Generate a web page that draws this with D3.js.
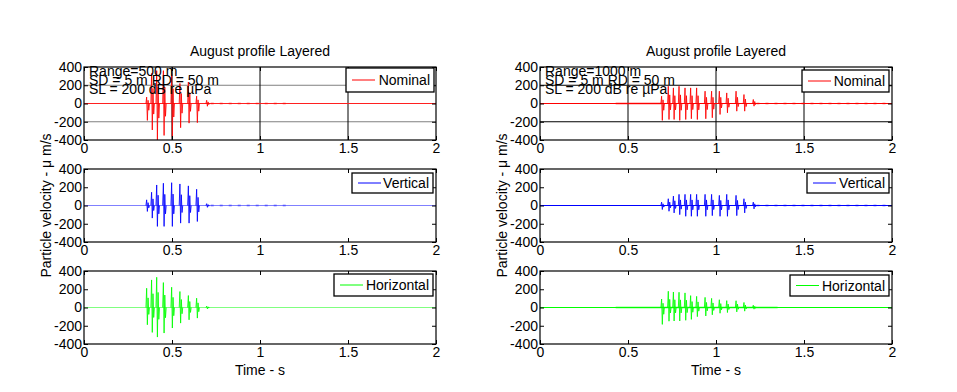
<!DOCTYPE html>
<html>
<head>
<meta charset="utf-8">
<script src="https://cdn.jsdelivr.net/npm/d3@7"></script>
<style>
  html, body { margin: 0; padding: 0; background: #fff; }
  svg { display: block; font-family: "Liberation Sans", Arial, sans-serif; }
</style>
</head>
<body>
<script>
// ---------------- data ----------------
const titleText = "August profile Layered";
const xLabelText = "Time - s";
const yLabelText = "Particle velocity -  \u03BC m/s";
const seriesNames = ["Nominal", "Vertical", "Horizontal"];
const xTicks = [0, 0.5, 1, 1.5, 2];
const yTicks = [-400, -200, 0, 200, 400];
const annotLeft = ["Range=500 m", "SD = 5 m  RD = 50 m", "SL = 200 dB re \u00B5Pa"];
const annotRight = ["Range=1000 m", "SD = 5 m  RD = 50 m", "SL = 200 dB re \u00B5Pa"];

// Range 500 m: arrival times (s) and peak values (µm/s)
const leftArrivals = [0.356, 0.384, 0.413, 0.451, 0.498, 0.545, 0.593, 0.640, 0.697];
const leftNominalUp = [70, 330, 360, 360, 325, 220, 235, 80, 35];
const leftNominalDown = [-185, -290, -400, -350, -370, -265, -215, -210, -30];
const leftVerticalUp = [62, 145, 225, 244, 250, 236, 215, 178, 20];
const leftVerticalDown = [-65, -138, -229, -229, -229, -193, -193, -175, -20];
const leftHorizontalUp = [211, 302, 331, 273, 222, 175, 131, 102, 15];
const leftHorizontalDown = [-189, -273, -324, -280, -225, -171, -135, -116, -15];

// Range 1000 m
const rightArrivals = [0.691, 0.729, 0.758, 0.790, 0.824, 0.856, 0.890, 0.938, 0.975, 1.019, 1.061, 1.114, 1.159, 1.212];
const rightNominalUp = [80, 189, 171, 189, 171, 171, 171, 135, 135, 135, 116, 135, 98, 44];
const rightNominalDown = [-185, -175, -175, -185, -175, -167, -175, -167, -156, -120, -102, -84, -84, -29];
const rightVerticalUp = [37, 74, 103, 122, 122, 122, 122, 122, 122, 111, 122, 111, 74, 37];
const rightVerticalDown = [-44, -63, -81, -100, -118, -118, -118, -118, -111, -118, -118, -111, -81, -37];
const rightHorizontalUp = [93, 178, 170, 167, 160, 130, 122, 111, 100, 85, 75, 74, 55, 25];
const rightHorizontalDown = [-185, -150, -148, -148, -140, -130, -100, -93, -80, -63, -55, -48, -40, -18];

// low-level tails (start, end in s) and faint noise bands
const leftTails = [[0.72, 1.17], [0.72, 1.16], null];
const rightTails = [[1.23, 1.97], [1.23, 1.97], null];
const leftBands = [null, null, null];
const rightBands = [[0.43, 0.69], null, [0.43, 1.35]];

// ---------------- layout ----------------
const W = 957, H = 392;
const columns = [
  { x0: 84, x1: 436, arrivals: leftArrivals,
    ups: [leftNominalUp, leftVerticalUp, leftHorizontalUp],
    downs: [leftNominalDown, leftVerticalDown, leftHorizontalDown],
    tails: leftTails, bands: leftBands, annot: annotLeft,
    base: ["#ff2020", "#8080ff", "#80ff80"], gridH: "#808080", gridV: "#000",
    legendBox: [[346, 68, 88, 24], [352, 173, 81, 20], [334, 274, 99, 22]],
    ylabX: 51 },
  { x0: 540, x1: 892, arrivals: rightArrivals,
    ups: [rightNominalUp, rightVerticalUp, rightHorizontalUp],
    downs: [rightNominalDown, rightVerticalDown, rightHorizontalDown],
    tails: rightTails, bands: rightBands, annot: annotRight,
    base: ["#ff0000", "#0000ff", "#00ff00"], gridH: "#000", gridV: "#000",
    legendBox: [[802, 70, 87, 22], [807, 173, 82, 20], [790, 275, 99, 21]],
    ylabX: 507 }
];
const rows = [{ y0: 67, y1: 140 }, { y0: 169, y1: 242 }, { y0: 271, y1: 344 }];
const colors = ["#ff0000", "#0000ff", "#00ff00"];

const svg = d3.select("body").append("svg").attr("width", W).attr("height", H);
svg.append("rect").attr("width", W).attr("height", H).attr("fill", "#fff");

columns.forEach((col) => {
  rows.forEach((row, r) => {
    const x = d3.scaleLinear().domain([0, 2]).range([col.x0, col.x1]);
    const y = d3.scaleLinear().domain([-400, 400]).range([row.y1, row.y0]);
    const g = svg.append("g");

    // grid (top panel only)
    if (r === 0) {
      g.selectAll(".gh").data(yTicks.filter(v => v !== -400 && v !== 400)).enter()
        .append("line").attr("x1", col.x0).attr("x2", col.x1)
        .attr("y1", d => y(d)).attr("y2", d => y(d))
        .attr("stroke", col.gridH).attr("stroke-width", 1);
      g.selectAll(".gv").data(xTicks.filter(v => v !== 0 && v !== 2)).enter()
        .append("line").attr("y1", row.y0).attr("y2", row.y1)
        .attr("x1", d => x(d)).attr("x2", d => x(d))
        .attr("stroke", col.gridV).attr("stroke-width", 1);
    }

    // baseline of the trace
    const line = d3.line().x(d => x(d[0])).y(d => y(d[1]));
    g.append("path").attr("d", line([[0, 0], [2, 0]]))
      .attr("stroke", col.base[r]).attr("stroke-width", 1.2).attr("fill", "none");

    // faint noise band
    const band = col.bands[r];
    if (band) {
      g.append("path").attr("d", line([[band[0], 0], [band[1], 0]]))
        .attr("stroke", colors[r]).attr("stroke-opacity", 0.22).attr("stroke-width", 3).attr("fill", "none");
    }
    // low-level tail
    const tail = col.tails[r];
    if (tail) {
      g.append("path").attr("d", line([[tail[0], 0], [tail[1], 0]]))
        .attr("stroke", colors[r]).attr("stroke-opacity", 0.35).attr("stroke-width", 2)
        .attr("stroke-dasharray", "3,6").attr("fill", "none");
    }

    // pulses
    const ups = col.ups[r], downs = col.downs[r];
    col.arrivals.forEach((t, i) => {
      const pts = [[t - 0.004, 0], [t, ups[i]], [t + 0.004, downs[i]], [t + 0.008, ups[i] * 0.5], [t + 0.012, downs[i] * 0.4], [t + 0.016, 0]];
      g.append("path").attr("d", line(pts))
        .attr("stroke", colors[r]).attr("stroke-width", 1).attr("fill", "none").attr("stroke-opacity", 0.85);
    });

    // axes with inward ticks
    const fmt = d => String(d);
    const ax = g.append("g").attr("transform", `translate(0,${row.y1})`)
      .call(d3.axisBottom(x).tickValues(xTicks).tickSizeInner(-4).tickSizeOuter(0).tickPadding(3).tickFormat(fmt));
    const ay = g.append("g").attr("transform", `translate(${col.x0},0)`)
      .call(d3.axisLeft(y).tickValues(yTicks).tickSizeInner(-4).tickSizeOuter(0).tickPadding(2).tickFormat(fmt));
    const at = g.append("g").attr("transform", `translate(0,${row.y0})`)
      .call(d3.axisTop(x).tickValues(xTicks).tickSizeInner(-4).tickSizeOuter(0).tickFormat(""));
    const ar = g.append("g").attr("transform", `translate(${col.x1},0)`)
      .call(d3.axisRight(y).tickValues(yTicks).tickSizeInner(-4).tickSizeOuter(0).tickFormat(""));
    [ax, ay, at, ar].forEach(a => {
      a.select(".domain").remove();
      a.selectAll("text").attr("font-size", 14).attr("fill", "#000")
        .attr("font-family", "'Liberation Sans', Arial, sans-serif");
      a.selectAll("line").attr("stroke", "#000");
    });

    // box
    g.append("rect").attr("x", col.x0).attr("y", row.y0)
      .attr("width", col.x1 - col.x0).attr("height", row.y1 - row.y0)
      .attr("fill", "none").attr("stroke", "#000").attr("stroke-width", 1.2);

    // legend
    const lb = col.legendBox[r];
    g.append("rect").attr("x", lb[0]).attr("y", lb[1]).attr("width", lb[2]).attr("height", lb[3])
      .attr("fill", "#fff").attr("stroke", "#000").attr("stroke-width", 1.3);
    g.append("line").attr("x1", lb[0] + 6).attr("x2", lb[0] + 29)
      .attr("y1", lb[1] + lb[3] / 2).attr("y2", lb[1] + lb[3] / 2)
      .attr("stroke", colors[r]).attr("stroke-width", 1);
    g.append("text").attr("x", lb[0] + lb[2] - 4).attr("y", lb[1] + lb[3] / 2 + 5)
      .attr("text-anchor", "end").attr("font-size", 14).text(seriesNames[r]);

    if (r === 0) {
      g.append("text").attr("x", (col.x0 + col.x1) / 2).attr("y", 56)
        .attr("text-anchor", "middle").attr("font-size", 14).text(titleText);
      col.annot.forEach((s, k) => {
        g.append("text").attr("x", col.x0 + 5).attr("y", 75.5 + k * 9.3)
          .attr("font-size", 14).text(s);
      });
    }
    if (r === 1) {
      g.append("text").attr("transform", `translate(${col.ylabX},${(row.y0 + row.y1) / 2}) rotate(-90)`)
        .attr("text-anchor", "middle").attr("font-size", 14).text(yLabelText);
    }
    if (r === 2) {
      g.append("text").attr("x", (col.x0 + col.x1) / 2).attr("y", 374.5)
        .attr("text-anchor", "middle").attr("font-size", 14).text(xLabelText);
    }
  });
});
</script>
</body>
</html>
